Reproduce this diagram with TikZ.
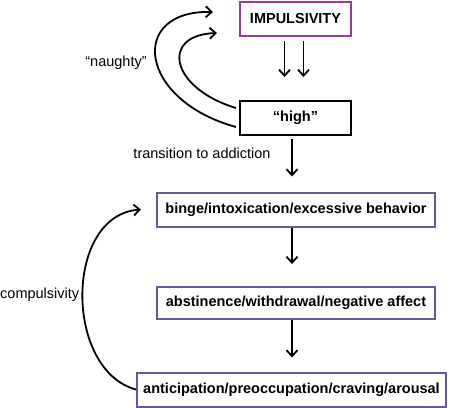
\documentclass[tikz,border=0pt]{standalone}
\usepackage{fontspec}
\setmainfont{Liberation Sans}
\usetikzlibrary{arrows.meta,positioning,calc}
\definecolor{impcol}{HTML}{9B3A9B}
\definecolor{stagecol}{HTML}{6A55A0}

\begin{document}
\begin{tikzpicture}[x=1pt,y=-1pt,
    stagebox/.style={draw=stagecol,line width=2pt,minimum height=34pt,
        inner sep=3pt,font=\fontsize{14.5}{17}\selectfont\bfseries},
    arr/.style={-{Straight Barb[length=6pt,width=11pt]},line width=1.8pt},
    lbl/.style={font=\fontsize{14.5}{17}\selectfont,inner sep=0pt}
]
\useasboundingbox (0,0) rectangle (451,408);
\node[stagebox,draw=impcol,minimum width=111pt] (impuls) at (295.5,19) {IMPULSIVITY};
\node[stagebox,draw=black,minimum width=111pt] (high) at (295.5,118) {“high”};
\node[stagebox,minimum width=278pt] (binge) at (296,209.5)
    {binge/intoxication/excessive behavior};
\node[stagebox,minimum width=278pt,minimum height=32pt] (abst) at (296,303)
    {abstinence/withdrawal/negative affect};
\node[stagebox,minimum width=309pt] (antic) at (291.5,389.5)
    {anticipation/preoccupation/craving/arousal};
\node[lbl] (naughty) at (116,63) {“naughty”};
\node[lbl] (trans) at (202,153) {transition to addiction};
\node[lbl,anchor=west] (comp) at (0,295) {compulsivity};
% impulsivity feeds the high
\draw[arr,shorten <=4pt,shorten >=23pt] ([xshift=-11pt]impuls.south) -- ([xshift=-11pt]impuls.south |- high.north);
\draw[arr,shorten <=4pt,shorten >=23pt] ([xshift=8pt]impuls.south) -- ([xshift=8pt]impuls.south |- high.north);
% loops back from the high
\draw[arr] ([xshift=-3pt,yshift=-9pt]high.west) .. controls (138,100) and (128,10) .. ([xshift=-26pt,yshift=7pt]impuls.west);
\draw[arr] ([xshift=-3pt,yshift=10pt]high.west) .. controls (170,88) and (160,35) .. ([xshift=-22pt,yshift=-14pt]impuls.west);
% addiction cycle
\draw[arr,shorten <=3pt,shorten >=15pt] ([xshift=-3.5pt]high.south) -- ([xshift=-3.5pt]high.south |- binge.north);
\draw[arr,shorten >=22pt] ([xshift=-4pt]binge.south) -- ([xshift=-4pt]binge.south |- abst.north);
\draw[arr,shorten >=14pt] ([xshift=-4pt]abst.south) -- ([xshift=-4pt]abst.south |- antic.north);
\draw[arr] (antic.west) .. controls (64,370) and (64,215) .. ([xshift=-15pt]binge.west);
\end{tikzpicture}
\end{document}
